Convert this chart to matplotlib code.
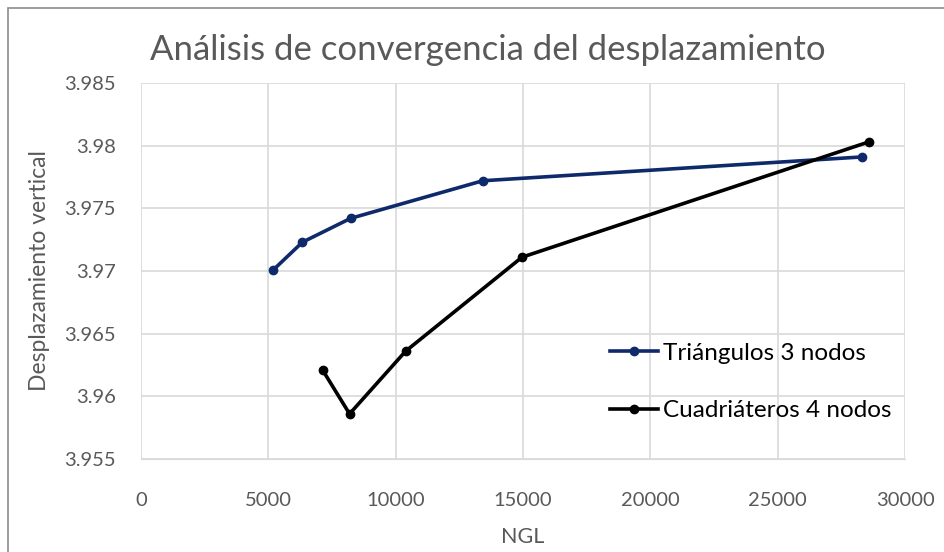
import matplotlib
matplotlib.use("Agg")
import matplotlib.pyplot as plt
from matplotlib.patches import Rectangle

plt.rcParams['font.family'] = ['Lato', 'DejaVu Sans']

tri_x = [5200, 6340, 8230, 13420, 28300]
tri_y = [3.9701, 3.9723, 3.9742, 3.9772, 3.9791]
quad_x = [7130, 8190, 10390, 14960, 28580]
quad_y = [3.9621, 3.9586, 3.9636, 3.9711, 3.9803]
tri_label = "Triángulos 3 nodos"
quad_label = "Cuadriáteros 4 nodos"
title = "Análisis de convergencia del desplazamiento"
xlabel = "NGL"
ylabel = "Desplazamiento vertical"
xticks = [0, 5000, 10000, 15000, 20000, 25000, 30000]
yticks = [3.955, 3.96, 3.965, 3.97, 3.975, 3.98, 3.985]
ytick_labels = ["3.955", "3.96", "3.965", "3.97", "3.975", "3.98", "3.985"]

W, H = 944, 552
fig = plt.figure(figsize=(W/100, H/100), dpi=100)
fig.patches.append(Rectangle((8/W, -0.1), 1.2, (H-8)/H + 0.1, transform=fig.transFigure,
                             fill=False, edgecolor='#8c8c8c', linewidth=1.2))
ax = fig.add_axes([141/W, 1-459/H, (905-141)/W, (459-83)/H])

gray = '#595959'
ax.plot(tri_x, tri_y, color='#0f2a6b', lw=2.6, marker='o', ms=6, label=tri_label, zorder=3)
ax.plot(quad_x, quad_y, color='black', lw=2.6, marker='o', ms=6, label=quad_label, zorder=3)

ax.set_xlim(0, 30000)
ax.set_ylim(3.955, 3.985)
ax.set_xticks(xticks)
ax.set_xticklabels([str(v) for v in xticks])
ax.set_yticks(yticks)
ax.set_yticklabels(ytick_labels)
ax.grid(True, color='#d9d9d9', lw=1.2)
ax.set_axisbelow(True)
for s in ax.spines.values():
    s.set_visible(False)
ax.spines['bottom'].set_visible(True)
ax.spines['bottom'].set_color('#d9d9d9')
ax.tick_params(length=0, labelsize=14.5, colors=gray)
ax.tick_params(axis='y', pad=18)
ax.tick_params(axis='x', pad=24)

ax.set_xlabel(xlabel, fontsize=15.5, color=gray, labelpad=13)
ax.set_ylabel(ylabel, fontsize=16.5, color=gray, labelpad=10)
fig.text(150/W, 1-50/H, title, fontsize=25, color=gray, va='center', ha='left')

leg = ax.legend(loc='upper left', bbox_to_anchor=((600-141)/(905-141), 1-(333-83)/(459-83)),
                frameon=False, fontsize=17.5, labelspacing=1.5, handlelength=2.0, handletextpad=0.2,
                borderaxespad=0)
for t in leg.get_texts():
    t.set_color('black')

fig.savefig("out.png", dpi=100)
